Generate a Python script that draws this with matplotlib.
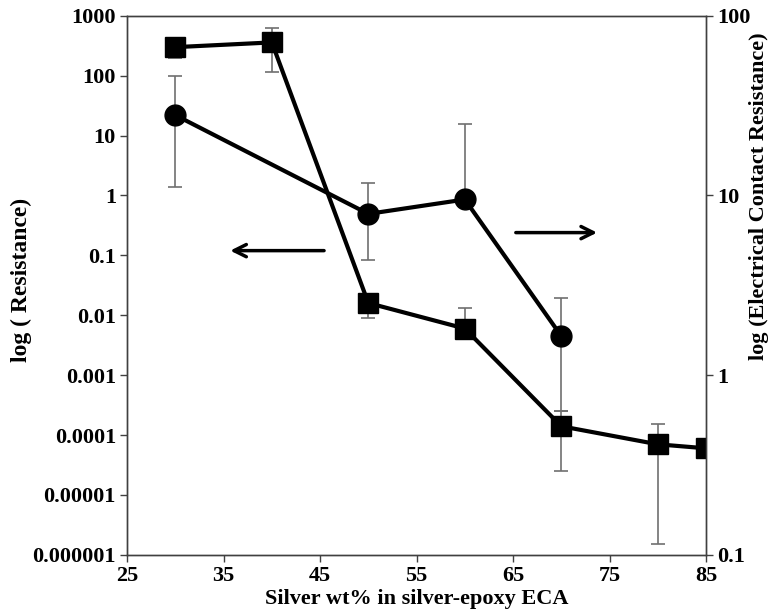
import matplotlib
matplotlib.use("Agg")
import matplotlib.pyplot as plt
import numpy as np

plt.rcParams['font.family'] = 'Liberation Serif'
plt.rcParams['font.weight'] = 'bold'

# bulk resistance (left axis), squares
silver_sq = [30, 40, 50, 60, 70, 80, 85]
resistance = [300, 360, 0.016, 0.006, 0.00014, 0.00007, 0.00006]
res_lo = [200, 115, 0.009, 0.006, 0.000025, 0.0000015, 0.00006]
res_hi = [330, 620, 0.016, 0.013, 0.00025, 0.00015, 0.00006]

# contact resistance (right axis), circles
silver_ci = [30, 50, 60, 70]
contact = [28, 7.9, 9.5, 1.65]
con_lo = [11.2, 4.4, 9.5, 0.63]
con_hi = [46, 11.7, 25, 2.7]

xticks = [25, 35, 45, 55, 65, 75, 85]
left_ticks = [1000, 100, 10, 1, 0.1, 0.01, 0.001, 0.0001, 0.00001, 0.000001]
left_labels = ['1000', '100', '10', '1', '0.1', '0.01', '0.001', '0.0001', '0.00001', '0.000001']
right_ticks = [100, 10, 1, 0.1]
right_labels = ['100', '10', '1', '0.1']

fig = plt.figure(figsize=(7.75, 6.09), dpi=100)
ax = fig.add_axes([0.164, 0.089, 0.747, 0.885])
ax2 = ax.twinx()

err_color = '#707070'

sq_err = [np.array(resistance) - np.array(res_lo), np.array(res_hi) - np.array(resistance)]
ax.errorbar(silver_sq, resistance, yerr=sq_err, fmt='none', ecolor=err_color,
            elinewidth=1.2, capsize=5, capthick=1.2, zorder=2)
ax.plot(silver_sq, resistance, 's-', color='black', linewidth=3, markersize=14, zorder=3)

ci_err = [np.array(contact) - np.array(con_lo), np.array(con_hi) - np.array(contact)]
ax2.errorbar(silver_ci, contact, yerr=ci_err, fmt='none', ecolor=err_color,
             elinewidth=1.2, capsize=5, capthick=1.2, zorder=2)
ax2.plot(silver_ci, contact, 'o-', color='black', linewidth=3, markersize=15, zorder=3)

ax.set_yscale('log')
ax.set_ylim(0.000001, 1000)
ax.set_yticks(left_ticks)
ax.set_yticklabels(left_labels)
ax.minorticks_off()
ax.set_xlim(25, 85)
ax.set_xticks(xticks)

ax2.set_yscale('log')
ax2.set_ylim(0.1, 100)
ax2.set_yticks(right_ticks)
ax2.set_yticklabels(right_labels)
ax2.minorticks_off()

for a in (ax, ax2):
    a.tick_params(labelsize=16, length=5, width=1, color='#404040', direction='out', pad=3)
    for s in a.spines.values():
        s.set_color('#404040')
        s.set_linewidth(1)

ax.set_xlabel('Silver wt% in silver-epoxy ECA', fontsize=16, fontweight='bold', labelpad=2)
ax.set_ylabel('log ( Resistance)', fontsize=17, fontweight='bold')
ax.yaxis.set_label_coords(-0.165, 0.51)
ax2.set_ylabel('log (Electrical Contact Resistance)', fontsize=16, fontweight='bold',
               rotation=90)
ax2.yaxis.set_label_coords(1.075, 0.665)

ax.annotate('', xy=(35.4, 0.12), xytext=(45.7, 0.12),
            arrowprops=dict(arrowstyle='->', lw=2.5, color='black', mutation_scale=22))
ax.annotate('', xy=(74.0, 0.24), xytext=(65.0, 0.24),
            arrowprops=dict(arrowstyle='->', lw=2.5, color='black', mutation_scale=22))

fig.savefig('out.png', dpi=100)
